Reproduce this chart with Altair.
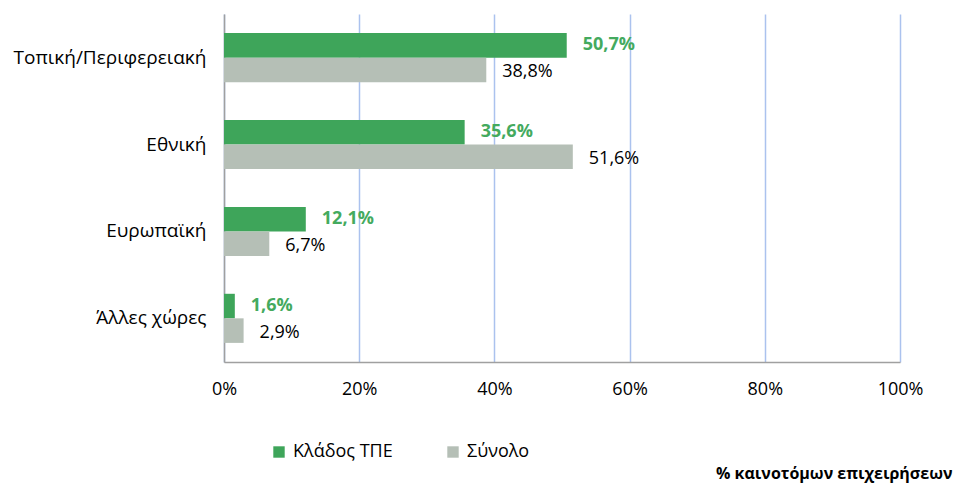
import altair as alt
import pandas as pd

categories = ["Τοπική/Περιφερειακή", "Εθνική", "Ευρωπαϊκή", "Άλλες χώρες"]
series = ["Κλάδος ΤΠΕ", "Σύνολο"]
tpe_values = [50.7, 35.6, 12.1, 1.6]
total_values = [38.8, 51.6, 6.7, 2.9]
x_ticks = [0, 20, 40, 60, 80, 100]

GREEN = "#3ea55a"
GRAY = "#b5bfb6"
FONT = "Open Sans"

rows = []
for i, c in enumerate(categories):
    for s, v in zip(series, [tpe_values[i], total_values[i]]):
        rows.append({"cat": c, "series": s, "value": v,
                     "label": f"{v:.1f}".replace(".", ",") + "%"})
df = pd.DataFrame(rows)

y_enc = alt.Y("cat:N", sort=categories,
              scale=alt.Scale(paddingInner=0.435, paddingOuter=0.22),
              axis=alt.Axis(title=None, labelFontSize=19, labelFont=FONT,
                            labelColor="#000000", labelPadding=18, ticks=False,
                            labelLimit=400,
                            domainColor="#a0a0a0", domainWidth=1.5, grid=False))
yoff = alt.YOffset("series:N", sort=series)

bars = alt.Chart(df).mark_bar().encode(
    x=alt.X("value:Q",
            scale=alt.Scale(domain=[0, 100]),
            axis=alt.Axis(values=x_ticks, labelExpr="datum.value + '%'",
                          title="% καινοτόμων επιχειρήσεων",
                          titleFont=FONT, titleFontSize=16, titleFontWeight="bold",
                          titleColor="#000000", titleAlign="right",
                          titleBaseline="middle", titleX=728, titleY=111,
                          labelFont=FONT, labelFontSize=18, labelColor="#000000",
                          labelPadding=18, ticks=False, labelFlush=False,
                          domainColor="#a0a0a0", domainWidth=1.5,
                          grid=True, gridColor="#abc2ee", gridWidth=1.5)),
    y=y_enc,
    yOffset=yoff,
    color=alt.Color("series:N", sort=series,
                    scale=alt.Scale(domain=series, range=[GREEN, GRAY]),
                    legend=alt.Legend(title=None, orient="none", direction="horizontal",
                                      legendX=46, legendY=429,
                                      symbolType="square", symbolSize=130,
                                      symbolStrokeWidth=0,
                                      labelFont=FONT, labelFontSize=18,
                                      labelColor="#000000", labelOffset=5,
                                      columnPadding=51)),
)

text_green = alt.Chart(df[df.series == series[0]]).mark_text(
    align="left", baseline="middle", dx=16, font=FONT, fontSize=18,
    fontWeight="bold", color="#44aa5e"
).encode(x="value:Q", y=alt.Y("cat:N", sort=categories), yOffset=yoff, text="label:N")

text_gray = alt.Chart(df[df.series == series[1]]).mark_text(
    align="left", baseline="middle", dx=16, dy=2, font=FONT, fontSize=18,
    color="#000000"
).encode(x="value:Q", y=alt.Y("cat:N", sort=categories), yOffset=yoff, text="label:N")

chart = alt.layer(bars, text_green, text_gray).properties(
    width=676, height=348,
    autosize=alt.AutoSizeParams(type="none"),
    padding={"left": 216, "top": 6, "right": 53, "bottom": 122},
).configure_view(stroke=None).configure_scale(bandPaddingInner=0.435)

chart.save("out.html", embed_options={"renderer": "svg", "actions": False})
